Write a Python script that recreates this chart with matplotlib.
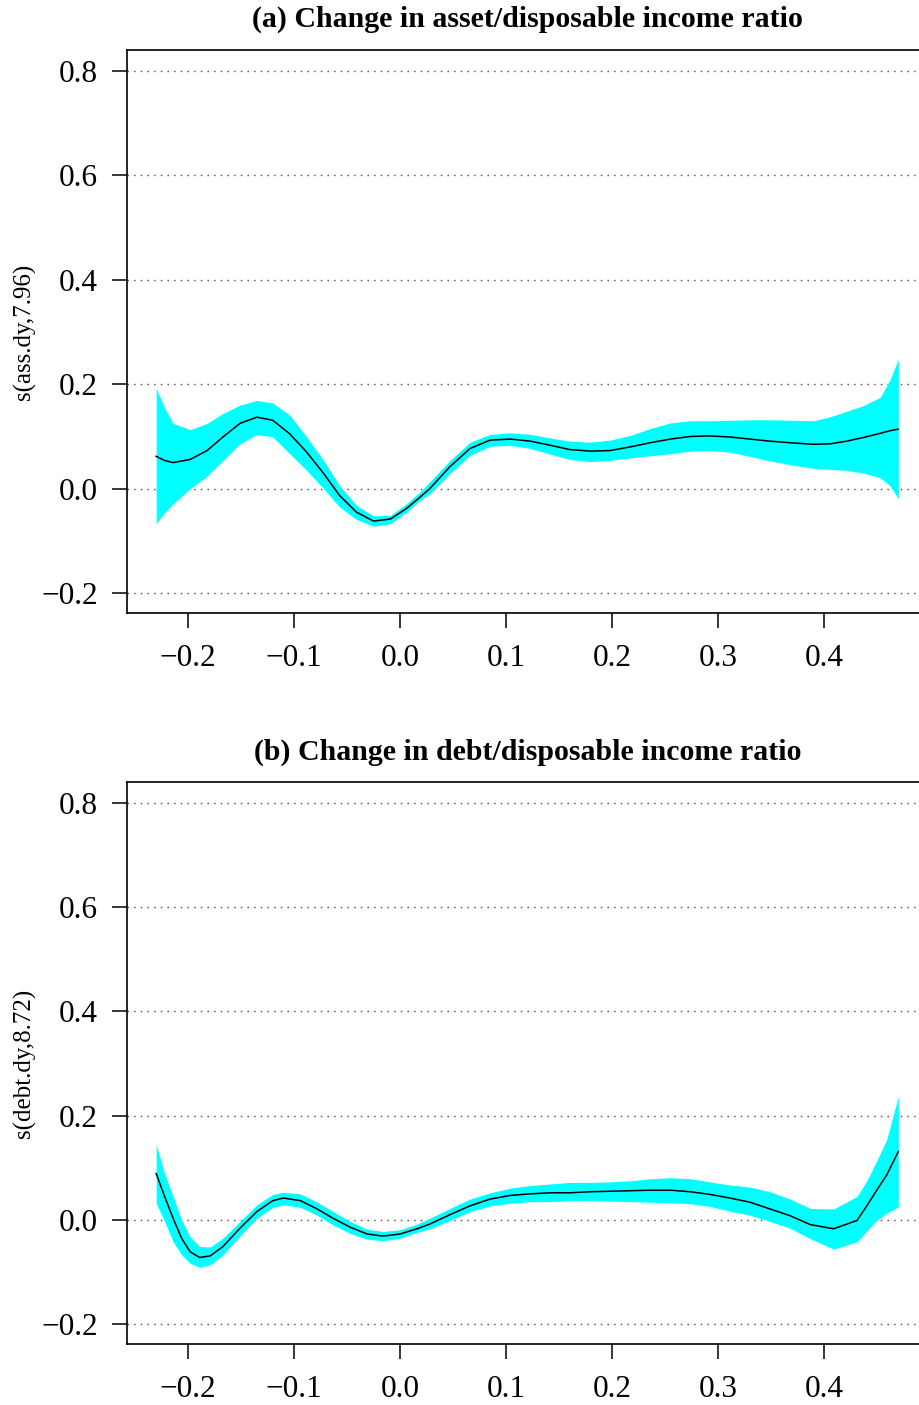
import matplotlib
matplotlib.use("Agg")
import matplotlib.pyplot as plt

plt.rcParams['font.family'] = ['Liberation Serif', 'DejaVu Serif']

# ---------------- Panel (a) data ----------------
xa = [-0.230, -0.222, -0.214, -0.198, -0.182, -0.167, -0.151, -0.135, -0.120, -0.104,
      -0.088, -0.072, -0.057, -0.041, -0.025, -0.009, 0.006, 0.019,
      0.028, 0.047, 0.066, 0.085, 0.104, 0.123, 0.142, 0.160, 0.179, 0.198, 0.217,
      0.236, 0.255, 0.274, 0.292, 0.311, 0.330, 0.349, 0.368,
      0.390, 0.406, 0.421, 0.437, 0.453, 0.462, 0.470]
fit_a = [0.062, 0.054, 0.050, 0.056, 0.073, 0.099, 0.125, 0.137, 0.131, 0.105,
         0.070, 0.029, -0.013, -0.045, -0.062, -0.058, -0.038, -0.016,
         0.000, 0.042, 0.077, 0.093, 0.095, 0.091, 0.083, 0.075, 0.072, 0.073, 0.080,
         0.088, 0.095, 0.100, 0.101, 0.099, 0.095, 0.091, 0.088,
         0.085, 0.086, 0.091, 0.098, 0.106, 0.111, 0.114]
upper_a = [0.192, 0.155, 0.125, 0.113, 0.125, 0.144, 0.160, 0.169, 0.164, 0.141,
           0.099, 0.054, 0.006, -0.032, -0.052, -0.051, -0.029, -0.006,
           0.013, 0.054, 0.089, 0.104, 0.107, 0.104, 0.097, 0.091, 0.089, 0.093, 0.102,
           0.115, 0.126, 0.130, 0.130, 0.131, 0.132, 0.132, 0.131,
           0.130, 0.138, 0.148, 0.159, 0.175, 0.208, 0.248]
lower_a = [-0.067, -0.046, -0.029, 0.000, 0.024, 0.054, 0.086, 0.104, 0.099, 0.067,
           0.035, 0.000, -0.035, -0.059, -0.072, -0.067, -0.045, -0.022,
           -0.010, 0.029, 0.064, 0.081, 0.083, 0.077, 0.066, 0.056, 0.052, 0.054, 0.059,
           0.063, 0.067, 0.072, 0.073, 0.070, 0.062, 0.053, 0.046,
           0.039, 0.037, 0.035, 0.030, 0.021, 0.006, -0.019]

# ---------------- Panel (b) data ----------------
xb = [-0.230, -0.222, -0.214, -0.206, -0.198, -0.189, -0.179, -0.167, -0.151, -0.135,
      -0.120, -0.110, -0.094, -0.079, -0.063, -0.047, -0.031, -0.016, 0.000, 0.016,
      0.028, 0.047, 0.066, 0.085, 0.104, 0.123, 0.142, 0.160, 0.179, 0.198, 0.217,
      0.236, 0.255, 0.274, 0.292, 0.311, 0.330, 0.349, 0.368,
      0.387, 0.409, 0.431, 0.440, 0.450, 0.459, 0.470]
fit_b = [0.089, 0.045, 0.003, -0.035, -0.061, -0.072, -0.069, -0.051, -0.016, 0.016,
         0.037, 0.042, 0.037, 0.022, 0.003, -0.014, -0.027, -0.031, -0.027, -0.017,
         -0.008, 0.010, 0.027, 0.040, 0.047, 0.050, 0.052, 0.052, 0.054, 0.055, 0.056,
         0.057, 0.057, 0.054, 0.049, 0.042, 0.034, 0.021, 0.008,
         -0.009, -0.017, -0.001, 0.026, 0.058, 0.086, 0.131]
upper_b = [0.144, 0.089, 0.045, 0.000, -0.032, -0.051, -0.052, -0.035, -0.003, 0.029,
           0.049, 0.053, 0.050, 0.035, 0.016, -0.003, -0.018, -0.022, -0.019, -0.008,
           0.003, 0.022, 0.040, 0.052, 0.061, 0.066, 0.069, 0.072, 0.072, 0.073, 0.075,
           0.079, 0.081, 0.079, 0.073, 0.067, 0.063, 0.054, 0.040,
           0.022, 0.021, 0.045, 0.074, 0.115, 0.154, 0.237]
lower_b = [0.032, -0.003, -0.042, -0.067, -0.083, -0.091, -0.086, -0.067, -0.031, 0.003,
           0.024, 0.029, 0.024, 0.010, -0.010, -0.026, -0.037, -0.040, -0.035, -0.024,
           -0.017, -0.001, 0.016, 0.027, 0.032, 0.035, 0.035, 0.037, 0.037, 0.036, 0.035,
           0.034, 0.033, 0.031, 0.026, 0.017, 0.009, -0.003, -0.016,
           -0.036, -0.056, -0.042, -0.022, 0.000, 0.013, 0.025]

xticks = [-0.2, -0.1, 0.0, 0.1, 0.2, 0.3, 0.4]
xticklabels = ["\u22120.2", "\u22120.1", "0.0", "0.1", "0.2", "0.3", "0.4"]
yticks = [-0.2, 0.0, 0.2, 0.4, 0.6, 0.8]
yticklabels = ["\u22120.2", "0.0", "0.2", "0.4", "0.6", "0.8"]

titles = ["(a) Change in asset/disposable income ratio",
          "(b) Change in debt/disposable income ratio"]
ylabels = ["s(ass.dy,7.96)", "s(debt.dy,8.72)"]

W, H = 920, 1405
fig = plt.figure(figsize=(W / 100, H / 100), dpi=100)

left_px, right_px = 127, 928
panels = [
    dict(top=50, bottom=613, title_base=27, x=xa, fit=fit_a, up=upper_a, lo=lower_a),
    dict(top=782, bottom=1344, title_base=760, x=xb, fit=fit_b, up=upper_b, lo=lower_b),
]

for i, p in enumerate(panels):
    ax = fig.add_axes([left_px / W, 1 - p['bottom'] / H,
                       (right_px - left_px) / W, (p['bottom'] - p['top']) / H])
    ax.set_xlim(-0.2575, 0.498)
    ax.set_ylim(-0.238, 0.84)
    ax.fill_between(p['x'], p['lo'], p['up'], color='#00FFFF', linewidth=0, zorder=2)
    ax.plot(p['x'], p['fit'], color='black', linewidth=1.1, zorder=3)
    for yv in yticks:
        ax.axhline(yv, color='#444444', linewidth=1.0, linestyle=(0, (1, 3.8)), zorder=1)
    ax.set_xticks(xticks)
    ax.set_xticklabels(xticklabels)
    ax.set_yticks(yticks)
    ax.set_yticklabels(yticklabels)
    ax.tick_params(axis='both', labelsize=22.5, direction='out', length=11, width=1.1,
                   color='black')
    ax.tick_params(axis='x', pad=11)
    ax.tick_params(axis='y', pad=10)
    for s in ax.spines.values():
        s.set_linewidth(1.2)
    fig.text(24 / W, 1 - (p['top'] + p['bottom']) / 2 / H, ylabels[i], rotation=90,
             ha='center', va='center', fontsize=18)
    fig.text((left_px + right_px) / 2 / W, 1 - p['title_base'] / H, titles[i],
             ha='center', va='baseline', fontsize=21.5, fontweight='bold')

fig.savefig("out.png", dpi=100)
